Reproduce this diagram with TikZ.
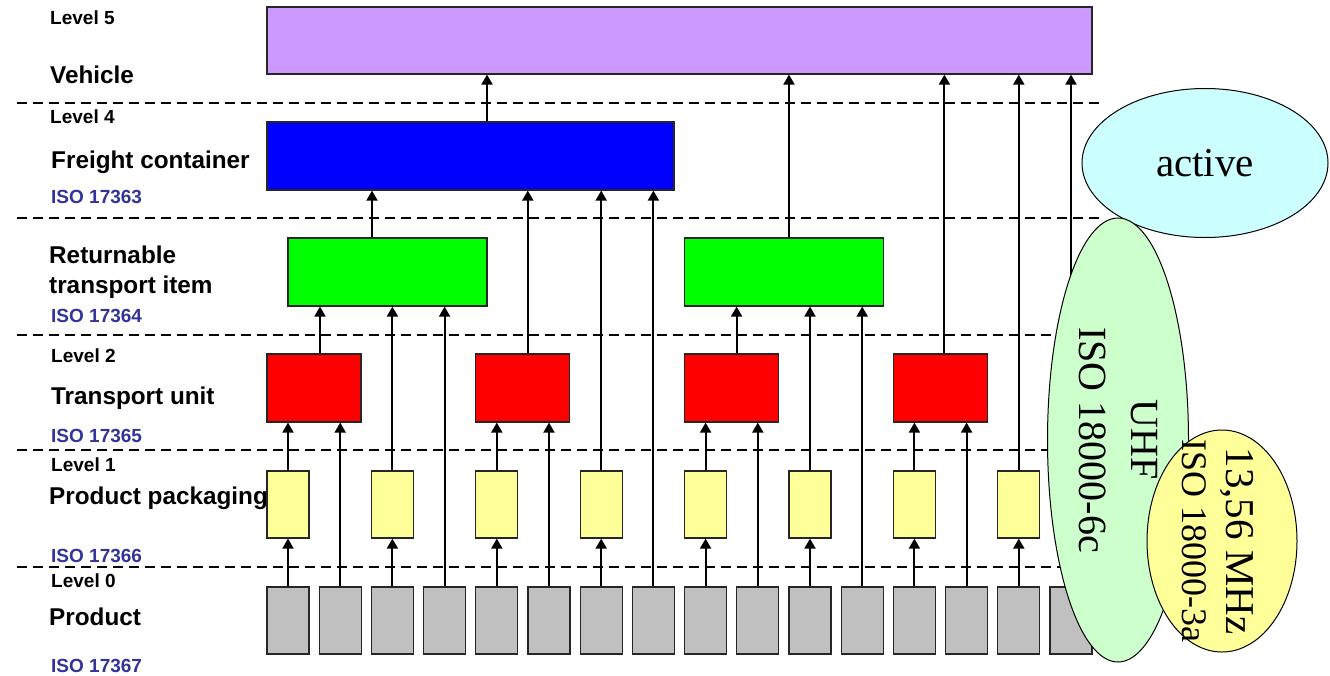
\documentclass[tikz,border=0pt]{standalone}
\usepackage{fontspec}
\setmainfont{Liberation Sans}
\newfontfamily\timesfont{Liberation Serif}
\usetikzlibrary{shapes.geometric,arrows.meta}

\definecolor{vehcol}{HTML}{CC99FF}
\definecolor{contcol}{HTML}{0000FF}
\definecolor{rticol}{HTML}{00FF00}
\definecolor{unitcol}{HTML}{FF0000}
\definecolor{packcol}{HTML}{FFFF99}
\definecolor{prodcol}{HTML}{C0C0C0}
\definecolor{isocol}{HTML}{333399}
\definecolor{activecol}{HTML}{CCFFFF}
\definecolor{uhfcol}{HTML}{CCFFCC}

\tikzset{
	box/.style={draw=black!85, line width=1.2pt, inner sep=0pt},
	prod/.style={box, fill=prodcol, minimum width=42pt, minimum height=67pt},
	pack/.style={box, fill=packcol, minimum width=42pt, minimum height=67pt},
	unit/.style={box, fill=unitcol, minimum width=94pt, minimum height=68pt},
	rti/.style={box, fill=rticol, minimum width=199pt, minimum height=68pt},
	cont/.style={box, fill=contcol, minimum width=407pt, minimum height=68pt},
	veh/.style={box, fill=vehcol, minimum width=825pt, minimum height=67pt},
	arr/.style={line width=2pt, -{Triangle[length=10pt,width=11pt]}},
	sep/.style={line width=2pt, dash pattern=on 10pt off 6pt},
	lvl/.style={anchor=base west, inner sep=0pt, font=\fontsize{19}{22}\selectfont\bfseries},
	ttl/.style={anchor=base west, inner sep=0pt, font=\fontsize{24.3}{29}\selectfont\bfseries},
	iso/.style={lvl, text=isocol},
	oval/.style={ellipse, draw, line width=1pt, inner sep=0pt, align=center}
}

\begin{document}
\begin{tikzpicture}[x=1pt,y=-1pt]
	\useasboundingbox (0,0) rectangle (1330,675);

	% left labels
	\node[lvl] (l5) at (50,24) {Level 5};
	\node[ttl] (t5) at (50,83) {Vehicle};
	\node[lvl] (l4) at (50,123) {Level 4};
	\node[ttl] (t4) at (51,168) {Freight container};
	\node[iso] (i4) at (51,203) {ISO 17363};
	\node[ttl] (t3a) at (49,263) {Returnable};
	\node[ttl] (t3b) at (49,293) {transport item};
	\node[iso] (i3) at (51,322) {ISO 17364};
	\node[lvl] (l2) at (51,362) {Level 2};
	\node[ttl] (t2) at (51,404) {Transport unit};
	\node[iso] (i2) at (51,442) {ISO 17365};
	\node[lvl] (l1) at (51,471) {Level 1};
	\node[ttl] (t1) at (49,504) {Product packaging};
	\node[iso] (i1) at (51,562) {ISO 17366};
	\node[lvl] (l0) at (51,587) {Level 0};
	\node[ttl] (t0) at (49,625) {Product};
	\node[iso] (i0) at (51,672) {ISO 17367};

	\foreach \y in {103,218,335,450,567}
		\draw[sep] (17,\y) -- (1103,\y);

	% boxes
	\foreach \i in {0,...,15}
		\node[prod] (p\i) at ({288+52.2*\i},620.5) {};
	\foreach \j in {0,...,7}
		\node[pack] (k\j) at ({288+104.4*\j},504.5) {};
	\foreach \j in {0,...,3}
		\node[unit] (u\j) at ({314+208.8*\j},388) {};
	\node[rti] (r0) at (387.5,272) {};
	\node[rti] (r1) at (784,272) {};
	\node[cont] (c) at (470.5,156) {};
	\node[veh] (v) at (679.5,40.5) {};

	% arrows
	\foreach \a/\b/\s in {p0/k0/0pt, p2/k1/0pt, p4/k2/0pt, p6/k3/0pt, p8/k4/0pt, p10/k5/0pt, p12/k6/0pt, p14/k7/0pt,
			k0/u0/0pt, p1/u0/0pt, k2/u1/0pt, p5/u1/0pt, k4/u2/0pt, p9/u2/0pt, k6/u3/0pt, p13/u3/0pt,
			u0/r0/6pt, k1/r0/0pt, p3/r0/0pt, u2/r1/5pt, k5/r1/0pt, p11/r1/0pt,
			r0/c/-15.5pt, u1/c/5pt, k3/c/0pt, p7/c/0pt,
			c/v/16.5pt, r1/v/5pt, u3/v/4pt, k7/v/0pt, p15/v/0pt}
		\draw[arr] ([xshift=\s]\a.north) -- ([xshift=\s]\a.north |- \b.south);

	% frequency bands
	\node[oval, fill=activecol, minimum width=246pt, minimum height=149pt,
		font=\timesfont\fontsize{41}{48}\selectfont] (act) at (1205,163) {active};
	\node[oval, fill=uhfcol, rotate=-90, minimum width=444pt, minimum height=141pt,
		font=\timesfont\fontsize{40}{52}\selectfont] (uhf) at (1118,440) {UHF\\ISO 18000-6c};
	\node[oval, fill=packcol, minimum width=150pt, minimum height=222pt] (hf) at (1222,541) {};
	\node[rotate=-90, inner sep=0pt, align=center, font=\timesfont\fontsize{41}{44}\selectfont]
		(hftxt) at ([xshift=-4pt]hf.center) {13,56 MHz\\{\fontsize{36}{44}\selectfont ISO 18000-3a}};

\end{tikzpicture}
\end{document}
